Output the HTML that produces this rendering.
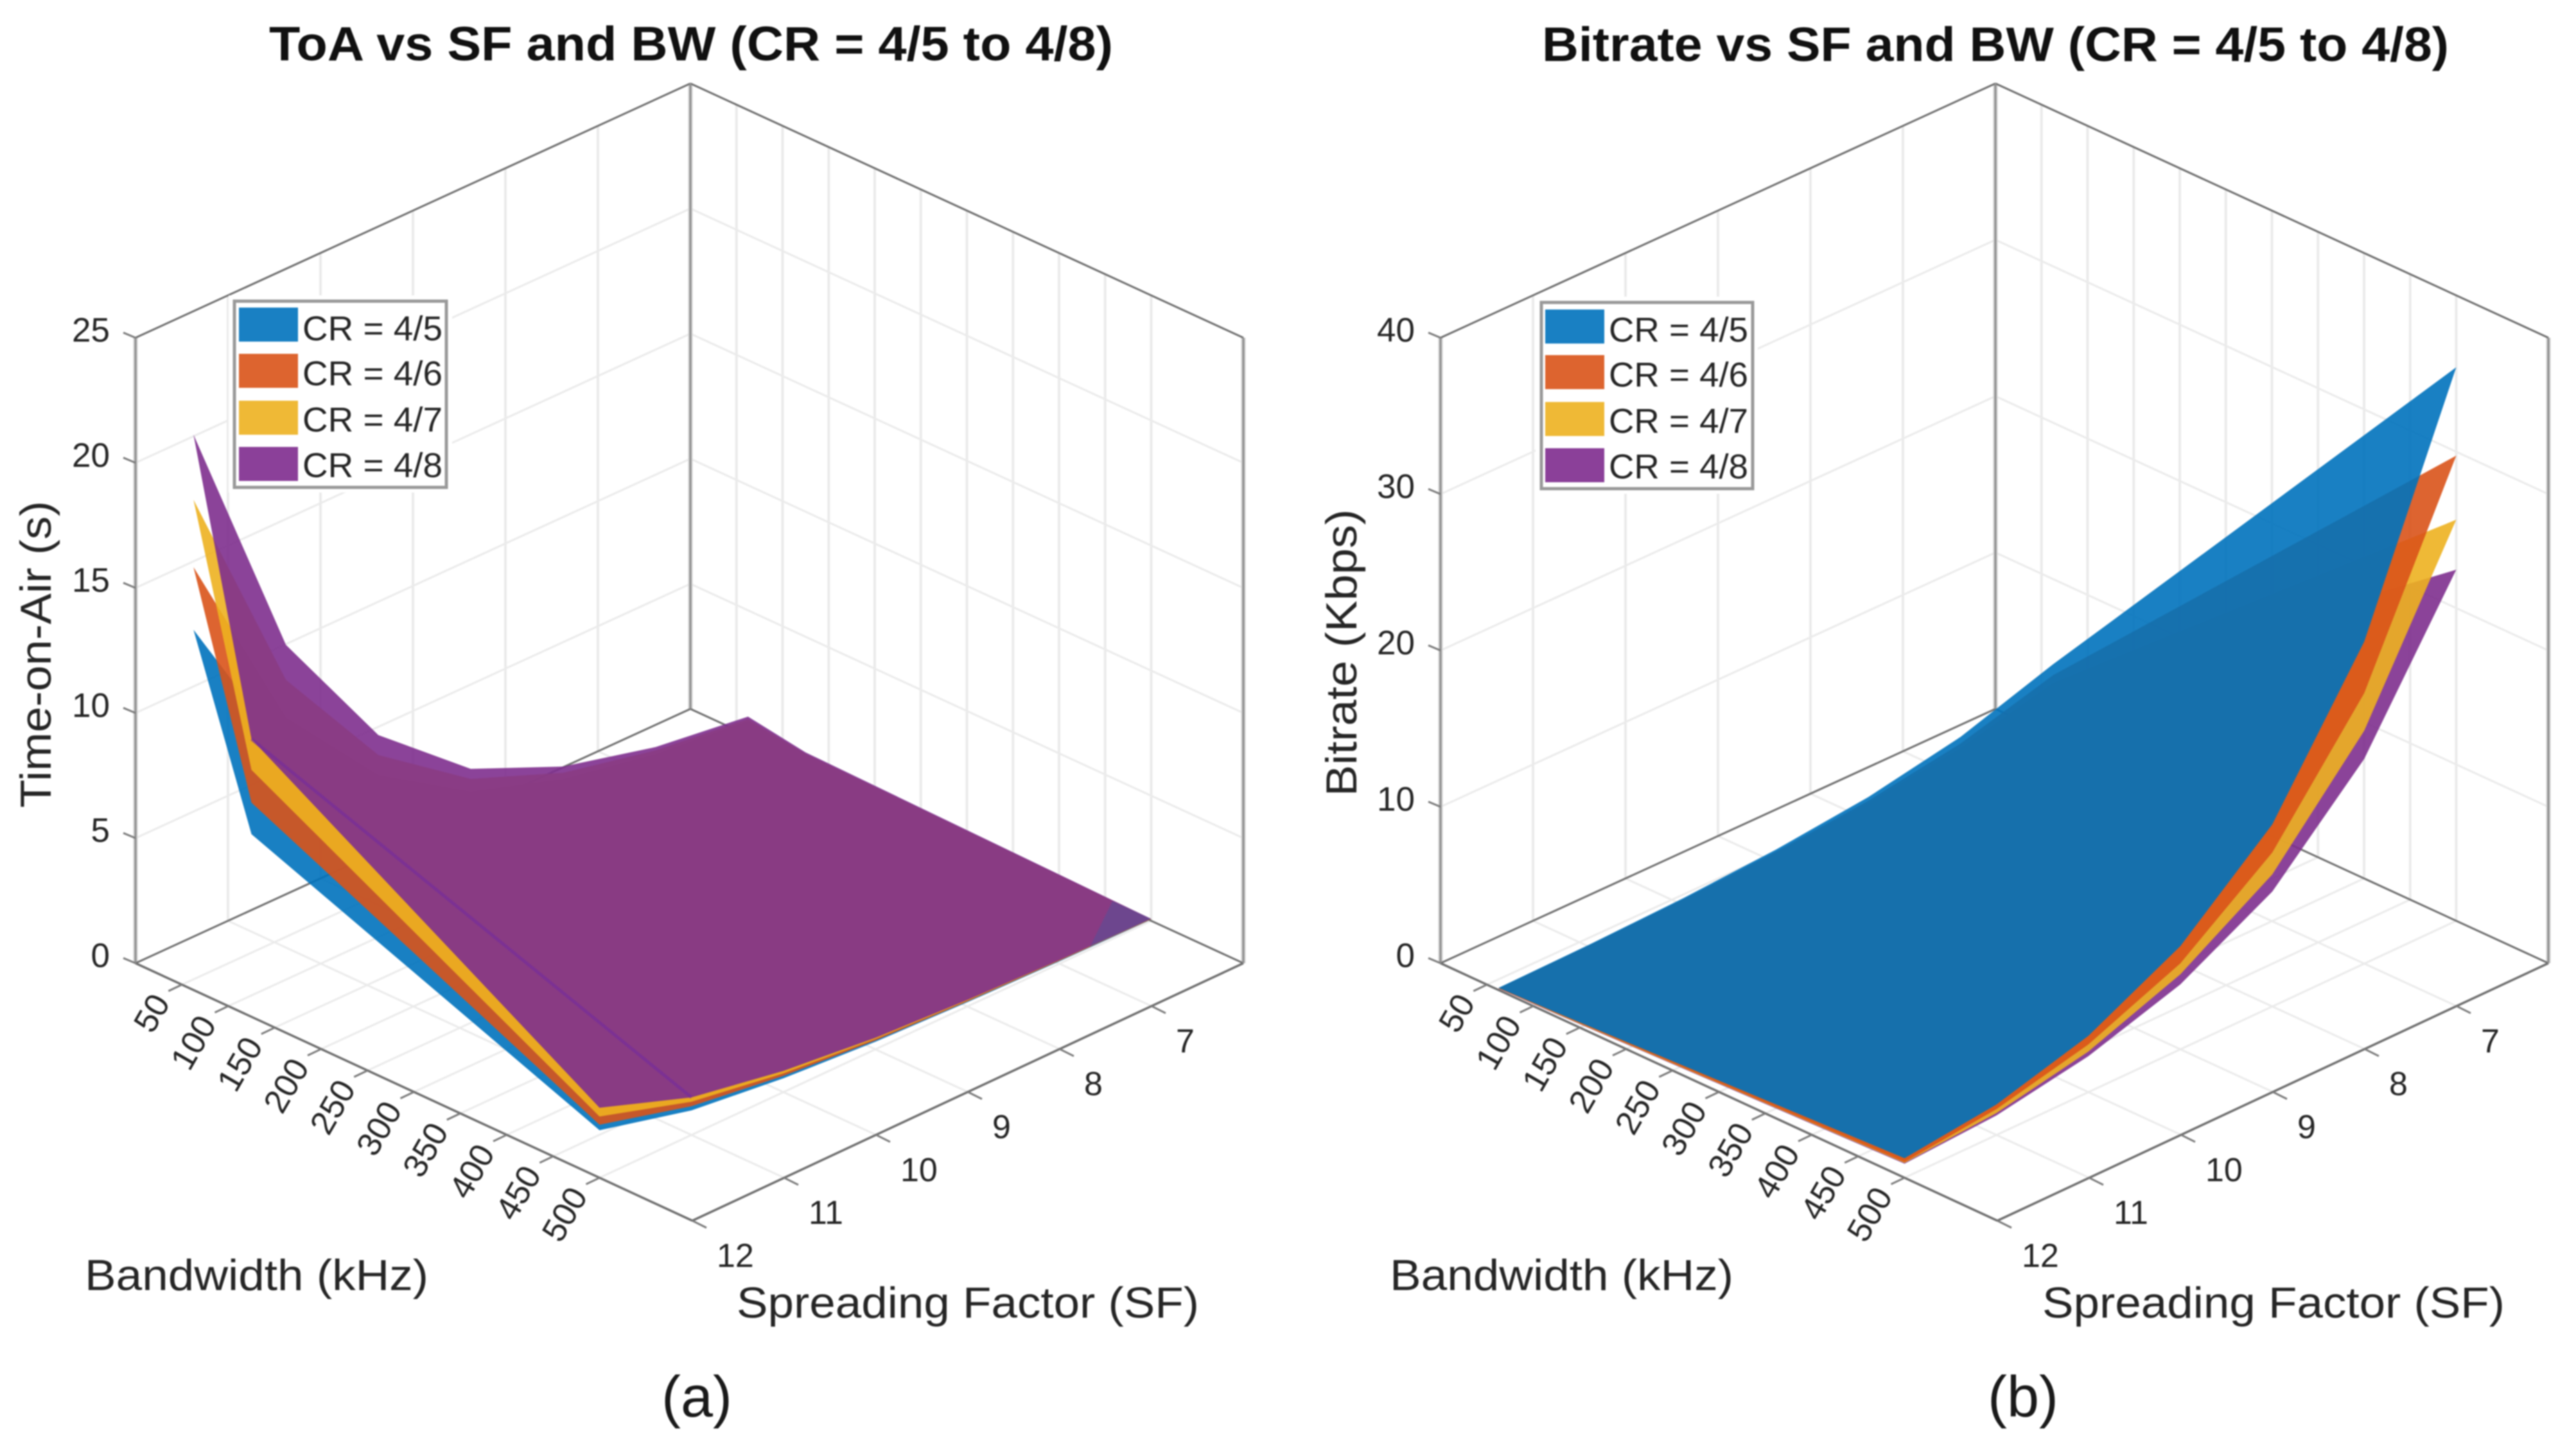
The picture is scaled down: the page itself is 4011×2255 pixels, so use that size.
<!DOCTYPE html>
<html lang="en">
<head>
<meta charset="utf-8">
<title>ToA and Bitrate vs SF and BW</title>
<style>
  html, body { margin: 0; padding: 0; background: #fff; }
  body { width: 4011px; height: 2255px; overflow: hidden; }
  svg { display: block; filter: blur(1.1px); font-family: "Liberation Sans", Arial, sans-serif; }
  text { fill: #262626; }
</style>
</head>
<body>
<svg id="figure" xmlns="http://www.w3.org/2000/svg" width="4011" height="2255" viewBox="0 0 4011 2255">
  <rect x="0" y="0" width="4011" height="2255" fill="#ffffff"/>

  <g id="panel-a">
    <g id="plot-a"></g>
    <text x="419" y="94" font-size="75" font-weight="700" textLength="1314" lengthAdjust="spacingAndGlyphs" style="fill:#111">ToA vs SF and BW (CR = 4/5 to 4/8)</text>
    <text x="132" y="2009" font-size="68" textLength="535" lengthAdjust="spacingAndGlyphs">Bandwidth (kHz)</text>
    <text x="1147" y="2052" font-size="68" textLength="720" lengthAdjust="spacingAndGlyphs">Spreading Factor (SF)</text>
    <text transform="translate(79 1258) rotate(-90)" font-size="68" textLength="478" lengthAdjust="spacingAndGlyphs">Time-on-Air (s)</text>
    <g>
      <rect x="356" y="460" width="348" height="307" fill="#ffffff"/>
      <rect x="365" y="469" width="330" height="290" fill="#ffffff" stroke="#9a9a9a" stroke-width="5"/>
      <rect x="372" y="479" width="92" height="53" fill="#1980c3"/>
      <rect x="372" y="551" width="92" height="53" fill="#dd642f"/>
      <rect x="372" y="624" width="92" height="53" fill="#efb936"/>
      <rect x="372" y="696" width="92" height="53" fill="#8b4099"/>
      <text x="471" y="530" font-size="54" textLength="218" lengthAdjust="spacingAndGlyphs">CR = 4/5</text>
      <text x="471" y="600" font-size="54" textLength="218" lengthAdjust="spacingAndGlyphs">CR = 4/6</text>
      <text x="471" y="672" font-size="54" textLength="218" lengthAdjust="spacingAndGlyphs">CR = 4/7</text>
      <text x="471" y="743" font-size="54" textLength="218" lengthAdjust="spacingAndGlyphs">CR = 4/8</text>
    </g>
    <text x="1085" y="2206" font-size="90" text-anchor="middle" style="fill:#1a1a1a">(a)</text>
  </g>

  <g id="panel-b">
    <g id="plot-b"></g>
    <text x="2401" y="95" font-size="75" font-weight="700" textLength="1412" lengthAdjust="spacingAndGlyphs" style="fill:#111">Bitrate vs SF and BW (CR = 4/5 to 4/8)</text>
    <text x="2164" y="2009" font-size="68" textLength="535" lengthAdjust="spacingAndGlyphs">Bandwidth (kHz)</text>
    <text x="3180" y="2052" font-size="68" textLength="720" lengthAdjust="spacingAndGlyphs">Spreading Factor (SF)</text>
    <text transform="translate(2112 1240) rotate(-90)" font-size="68" textLength="447" lengthAdjust="spacingAndGlyphs">Bitrate (Kbps)</text>
    <g>
      <rect x="2391" y="462" width="346" height="307" fill="#ffffff"/>
      <rect x="2400" y="471" width="329" height="290" fill="#ffffff" stroke="#9a9a9a" stroke-width="5"/>
      <rect x="2406" y="482" width="92" height="53" fill="#1980c3"/>
      <rect x="2406" y="553" width="92" height="53" fill="#dd642f"/>
      <rect x="2406" y="626" width="92" height="53" fill="#efb936"/>
      <rect x="2406" y="698" width="92" height="53" fill="#8b4099"/>
      <text x="2505" y="532" font-size="54" textLength="217" lengthAdjust="spacingAndGlyphs">CR = 4/5</text>
      <text x="2505" y="602" font-size="54" textLength="217" lengthAdjust="spacingAndGlyphs">CR = 4/6</text>
      <text x="2505" y="674" font-size="54" textLength="217" lengthAdjust="spacingAndGlyphs">CR = 4/7</text>
      <text x="2505" y="745" font-size="54" textLength="217" lengthAdjust="spacingAndGlyphs">CR = 4/8</text>
    </g>
    <text x="3150" y="2206" font-size="90" text-anchor="middle" style="fill:#1a1a1a">(b)</text>
  </g>
</svg>

<script>
// Sample grid. Each series row is one bandwidth, each column one spreading factor.
const bandwidths = [62.5, 125, 500];
const spreadingFactors = [6, 7, 8, 9, 10, 11, 12];

// Axis tick labels
const bwTicks = [50, 100, 150, 200, 250, 300, 350, 400, 450, 500];
const sfTicks = [7, 8, 9, 10, 11, 12];
const toaTicks = [0, 5, 10, 15, 20, 25];
const bitrateTicks = [0, 10, 20, 30, 40];

// Time-on-Air in seconds
const toaCr45 = [
  [0.5, 0.8, 1.4, 2.42, 4.4, 7.85, 14.4],
  [0.25, 0.4, 0.7, 1.22, 2.2, 3.93, 7.3],
  [0.05, 0.09, 0.17, 0.3, 0.55, 0.98, 1.9]
];
const toaCr46 = [
  [0.58, 0.95, 1.65, 2.85, 5.2, 9.2, 16.9],
  [0.29, 0.48, 0.83, 1.43, 2.6, 4.6, 8.56],
  [0.06, 0.11, 0.2, 0.35, 0.65, 1.15, 2.12]
];
const toaCr47 = [
  [0.66, 1.1, 1.9, 3.35, 6.0, 10.7, 19.6],
  [0.33, 0.55, 0.96, 1.68, 3.0, 5.35, 9.87],
  [0.07, 0.13, 0.23, 0.41, 0.75, 1.33, 2.45]
];
const toaCr48 = [
  [0.75, 1.23, 2.15, 3.75, 6.8, 12.1, 22.2],
  [0.38, 0.62, 1.08, 1.88, 3.4, 6.05, 11.1],
  [0.08, 0.14, 0.26, 0.46, 0.85, 1.5, 2.8]
];

// Bitrate in Kbps
const bitrateCr45 = [
  [4.55, 2.62, 1.48, 0.83, 0.45, 0.24, 0.14],
  [8.95, 5.2, 2.95, 1.67, 0.9, 0.49, 0.27],
  [35.4, 20.6, 11.65, 6.6, 3.6, 1.95, 1.25]
];
const bitrateCr46 = [
  [3.85, 2.2, 1.25, 0.7, 0.38, 0.2, 0.11],
  [7.55, 4.38, 2.5, 1.4, 0.76, 0.41, 0.23],
  [29.75, 17.3, 9.85, 5.5, 3.05, 1.65, 1.0]
];
const bitrateCr47 = [
  [3.35, 1.9, 1.08, 0.61, 0.32, 0.18, 0.1],
  [6.55, 3.78, 2.15, 1.22, 0.65, 0.35, 0.2],
  [25.65, 14.9, 8.45, 4.8, 2.6, 1.4, 0.95]
];
const bitrateCr48 = [
  [2.95, 1.68, 0.95, 0.53, 0.29, 0.16, 0.09],
  [5.75, 3.33, 1.88, 1.06, 0.57, 0.31, 0.17],
  [22.45, 13.1, 7.35, 4.15, 2.3, 1.25, 0.9]
];

const SVG_NS = 'http://www.w3.org/2000/svg';
const BW_MAX = 600;
const SF_MIN = 6;
const SF_MAX = 12;

// Axis functions: data value to normalised axis position
function bwAxis(bw) { return bw / BW_MAX; }
function sfAxis(sf) { return (SF_MAX - sf) / (SF_MAX - SF_MIN); }

// Projected axes box (panel a coordinates; panel b is offset horizontally)
const box = { lx: 211, ly: 1500, fx: 1078, fy: 1901, bx: 1075, by: 1104, rx: 1936, ry: 1500, h: 974 };

function projector(dx, zMax) {
  return function (u, v, z) {
    const a = (1 - u) * (1 - v), b = u * (1 - v), c = (1 - u) * v, d = u * v;
    return [
      dx + a * box.lx + b * box.fx + c * box.bx + d * box.rx,
      a * box.ly + b * box.fy + c * box.by + d * box.ry - (z / zMax) * box.h
    ];
  };
}

function svgEl(tag, parent) {
  const node = document.createElementNS(SVG_NS, tag);
  parent.appendChild(node);
  return node;
}

function strokeLine(parent, p, q, color, width) {
  const line = svgEl('line', parent);
  line.setAttribute('x1', p[0].toFixed(1));
  line.setAttribute('y1', p[1].toFixed(1));
  line.setAttribute('x2', q[0].toFixed(1));
  line.setAttribute('y2', q[1].toFixed(1));
  line.setAttribute('stroke', color);
  line.setAttribute('stroke-width', width);
  return line;
}

function surfacePath(values, project) {
  let d = '';
  for (let i = 0; i < bandwidths.length - 1; i++) {
    for (let j = 0; j < spreadingFactors.length - 1; j++) {
      const quad = [[i, j], [i + 1, j], [i + 1, j + 1], [i, j + 1]].map(function (ij) {
        return project(bwAxis(bandwidths[ij[0]]), sfAxis(spreadingFactors[ij[1]]), values[ij[0]][ij[1]]);
      });
      let area = 0;
      for (let k = 0; k < 4; k++) {
        const n = quad[(k + 1) % 4];
        area += quad[k][0] * n[1] - n[0] * quad[k][1];
      }
      if (area < 0) quad.reverse();
      d += 'M' + quad.map(function (p) { return p[0].toFixed(1) + ' ' + p[1].toFixed(1); }).join('L') + 'Z';
    }
  }
  return d;
}

function drawPanel(groupId, prefix, dx, zMax, zTicks, series) {
  const root = document.getElementById(groupId);
  const P = projector(dx, zMax);
  const GRID = '#ebebeb', EDGE = '#707070', POST = '#8f8f8f', POST_HALO = '#d2d2d2', TICK = '#7c7c7c';

  const grid = svgEl('g', root);
  
  

  bwTicks.forEach(function (b) {
    const u = bwAxis(b);
    const floorLine = strokeLine(grid, P(u, 0, 0), P(u, 1, 0), GRID, 3);
    
    
    const wallLine = strokeLine(grid, P(u, 1, 0), P(u, 1, zMax), GRID, 4);
    
    
  });
  sfTicks.forEach(function (s) {
    const v = sfAxis(s);
    const floorLine = strokeLine(grid, P(0, v, 0), P(1, v, 0), GRID, 3);
    
    
    const wallLine = strokeLine(grid, P(0, v, 0), P(0, v, zMax), GRID, 4);
    
    
  });
  zTicks.forEach(function (z) {
    if (z === 0 || z === zMax) return;
    const leftLine = strokeLine(grid, P(0, 0, z), P(0, 1, z), GRID, 3);
    
    
    const rightLine = strokeLine(grid, P(0, 1, z), P(1, 1, z), GRID, 3);
    
    
  });

  const frame = svgEl('g', root);
  
  
  const edges = [
    [P(0, 0, 0), P(0, 0, zMax), POST_HALO, 7], [P(0, 1, 0), P(0, 1, zMax), POST_HALO, 7],
    [P(1, 1, 0), P(1, 1, zMax), POST_HALO, 7],
    [P(0, 0, 0), P(0, 1, 0), EDGE, 3], [P(0, 1, 0), P(1, 1, 0), EDGE, 3],
    [P(0, 0, 0), P(1, 0, 0), EDGE, 3.5], [P(1, 0, 0), P(1, 1, 0), EDGE, 3.5],
    [P(0, 0, zMax), P(0, 1, zMax), EDGE, 3], [P(0, 1, zMax), P(1, 1, zMax), EDGE, 3],
    [P(0, 0, 0), P(0, 0, zMax), POST, 3], [P(0, 1, 0), P(0, 1, zMax), POST, 3],
    [P(1, 1, 0), P(1, 1, zMax), POST, 3]
  ];
  edges.forEach(function (e) {
    const edge = strokeLine(frame, e[0], e[1], e[2], e[3]);
    
    
  });

  // Surfaces, drawn lowest-visible first so alpha blending matches the view from above
  series.forEach(function (s) {
    const path = svgEl('path', root);
    path.setAttribute('d', surfacePath(s.values, P));
    path.setAttribute('fill', s.color);
    path.setAttribute('fill-opacity', '0.9');
    path.setAttribute('fill-rule', 'nonzero');
    
    
  });

  // Bandwidth ticks and labels
  bwTicks.forEach(function (b) {
    const p = P(bwAxis(b), 0, 0);
    const tick = strokeLine(root, p, [p[0] - 21, p[1] + 10], TICK, 3);
    
    
    const label = svgEl('text', root);
    label.textContent = String(b);
    const ax = p[0] - 33, ay = p[1] + 19;
    label.setAttribute('transform', 'translate(' + ax.toFixed(1) + ' ' + ay.toFixed(1) + ') rotate(-60)');
    label.setAttribute('text-anchor', 'end');
    label.setAttribute('dy', '0.35em');
    label.setAttribute('font-size', '52');
    
    
  });

  // Spreading factor ticks and labels
  sfTicks.forEach(function (s) {
    const p = P(1, sfAxis(s), 0);
    const tick = strokeLine(root, p, [p[0] + 22, p[1] + 11], TICK, 3);
    
    
    const label = svgEl('text', root);
    label.textContent = String(s);
    label.setAttribute('x', (p[0] + 38).toFixed(1));
    label.setAttribute('y', (p[1] + 72).toFixed(1));
    label.setAttribute('font-size', '52');
    
    
  });

  // Vertical axis ticks and labels
  zTicks.forEach(function (z) {
    const p = P(0, 0, z);
    const tick = strokeLine(root, p, [p[0] - 19, p[1] - 8], TICK, 3);
    
    
    const label = svgEl('text', root);
    label.textContent = String(z);
    label.setAttribute('x', (p[0] - 40).toFixed(1));
    label.setAttribute('y', (p[1] + 6).toFixed(1));
    label.setAttribute('text-anchor', 'end');
    label.setAttribute('font-size', '53');
    
    
  });

  return P;
}

const BLUE = '#0072BD', ORANGE = '#D95319', YELLOW = '#EDB120', PURPLE = '#7E2F8E';

const projectToa = drawPanel('plot-a', 'toa', 0, 25, toaTicks, [
  { name: 'cr45', color: BLUE, values: toaCr45 },
  { name: 'cr46', color: ORANGE, values: toaCr46 },
  { name: 'cr47', color: YELLOW, values: toaCr47 },
  { name: 'cr48', color: PURPLE, values: toaCr48 }
]);

drawPanel('plot-b', 'bitrate', 2032, 40, bitrateTicks, [
  { name: 'cr48', color: PURPLE, values: bitrateCr48 },
  { name: 'cr47', color: YELLOW, values: bitrateCr47 },
  { name: 'cr46', color: ORANGE, values: bitrateCr46 },
  { name: 'cr45', color: BLUE, values: bitrateCr45 }
]);

// Darker diagonal crease across the top ToA surface, between two of its grid nodes
(function () {
  const plot = document.getElementById('plot-a');
  const last = spreadingFactors.length - 1;
  const start = projectToa(bwAxis(bandwidths[1]), sfAxis(spreadingFactors[last]), toaCr48[1][last]);
  const end = projectToa(bwAxis(bandwidths[2]), sfAxis(spreadingFactors[last - 1]), toaCr48[2][last - 1]);
  const crease = strokeLine(plot, start, end, '#7129a0', 5);
  crease.setAttribute('stroke-opacity', '0.55');
  
  

  // Bluish tip where the lower surfaces show through near the 500 kHz, low-SF corner
  const tip = svgEl('path', plot);
  const a = projectToa(bwAxis(bandwidths[2]), sfAxis(spreadingFactors[0]), toaCr48[2][0]);
  const b = projectToa(bwAxis(458), sfAxis(spreadingFactors[0]), toaCr48[2][0]);
  const c = projectToa(bwAxis(bandwidths[2]), sfAxis(6.67), toaCr48[2][0]);
  tip.setAttribute('d', 'M' + a[0].toFixed(1) + ' ' + a[1].toFixed(1) + 'L' + b[0].toFixed(1) + ' ' + b[1].toFixed(1) + 'L' + c[0].toFixed(1) + ' ' + c[1].toFixed(1) + 'Z');
  tip.setAttribute('fill', BLUE);
  tip.setAttribute('fill-opacity', '0.2');
  
  
})();
</script>
</body>
</html>
